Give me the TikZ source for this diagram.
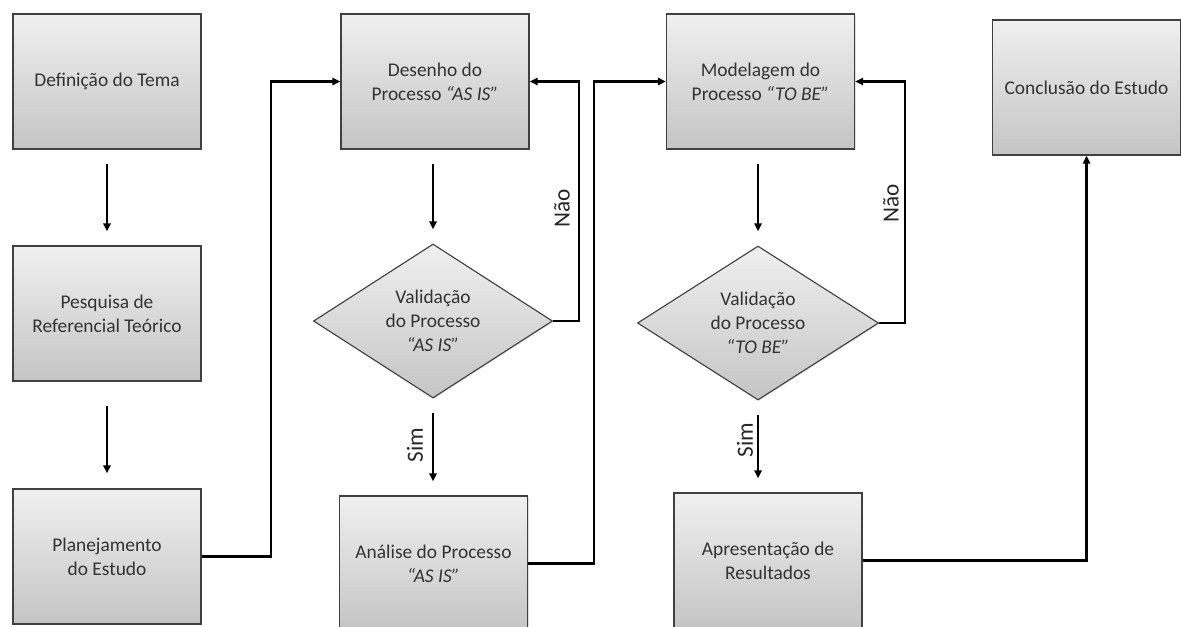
\documentclass[tikz,border=0pt]{standalone}
\usepackage{fontspec}
\setmainfont{Carlito}
\usetikzlibrary{shapes.geometric, arrows.meta, shadows}
\tikzset{etapa/.style = {draw = black!75, line width = 0.8pt, top color = black!6, bottom color = black!23, minimum width = 4.7cm, minimum height = 3.375cm, inner sep = 0, align = center, text = black!80, drop shadow = {opacity = 0.25, shadow xshift = 0.7pt, shadow yshift = -0.7pt}}}
\tikzset{decisao/.style = {etapa, diamond, aspect = 1.55, minimum width = 5.975cm, minimum height = 3.85cm}}
\tikzset{liga/.style = {line width = 1.5pt, -{Triangle[length = 0.2cm, width = 0.18cm]}}}
\tikzset{fluxo/.style = {liga, shorten <= 0.35cm, shorten >= 0.35cm}}
\tikzset{rotulo/.style = {rotate = 90, inner sep = 0, text = black!85, font = \fontsize{16.5}{20}\selectfont}}

\begin{document}
\begin{tikzpicture}[x = 0.025cm, y = -0.025cm, font = \fontsize{13.8}{17}\selectfont]
    \useasboundingbox (0, 0) rectangle (1181, 626);
    \node [etapa] (tema) at (107, 81.5) {Definição do Tema};
    \node [etapa] (pesquisa) at (107, 313.5) {Pesquisa de\\Referencial Teórico};
    \node [etapa] (planejamento) at (107, 556.5) {Planejamento\\do Estudo};
    \node [etapa] (desenho) at (435, 81.5) {Desenho do\\Processo \textit{“AS IS”}};
    \node [decisao] (validacao1) at (433, 321) {Validação\\do Processo\\\textit{“AS IS”}};
    \node [etapa] (analise) at (433.5, 563.5) {Análise do Processo\\\textit{“AS IS”}};
    \node [etapa] (modelagem) at (760.5, 81.5) {Modelagem do\\Processo \textit{“TO BE”}};
    \node [decisao, minimum width = 6.025cm] (validacao2) at (758, 323) {Validação\\do Processo\\\textit{“TO BE”}};
    \node [etapa] (apresentacao) at (768, 560.5) {Apresentação de\\Resultados};
    \node [etapa] (conclusao) at (1086.5, 87.5) {Conclusão do Estudo};
    \draw [fluxo] (tema) -- (pesquisa);
    \draw [fluxo, shorten <= 0.6cm, shorten >= 0.375cm] (pesquisa) -- (planejamento);
    \draw [fluxo] (validacao1 |- desenho.south) -- (validacao1.north);
    \draw [fluxo] (validacao1) -- (validacao1 |- analise.north);
    \draw [fluxo] (validacao2 |- modelagem.south) -- (validacao2.north);
    \draw [fluxo] (validacao2) -- (validacao2 |- apresentacao.north);
    \draw [liga] (planejamento.east) -- ++(69, 0) |- (desenho.west);
    \draw [liga] (validacao1.east) -- ++(26, 0) |- (desenho.east);
    \draw [liga] (analise.east) -- ++(66, 0) |- (modelagem.west);
    \draw [liga] (validacao2.east) -- ++(26, 0) |- (modelagem.east);
    \draw [liga] (apresentacao.east) -| (conclusao.south);
    \node [rotulo] (nao1) at (562, 208) {Não};
    \node [rotulo] (sim1) at (415, 445) {Sim};
    \node [rotulo] (nao2) at (891, 203) {Não};
    \node [rotulo] (sim2) at (745, 440) {Sim};
\end{tikzpicture}
\end{document}
